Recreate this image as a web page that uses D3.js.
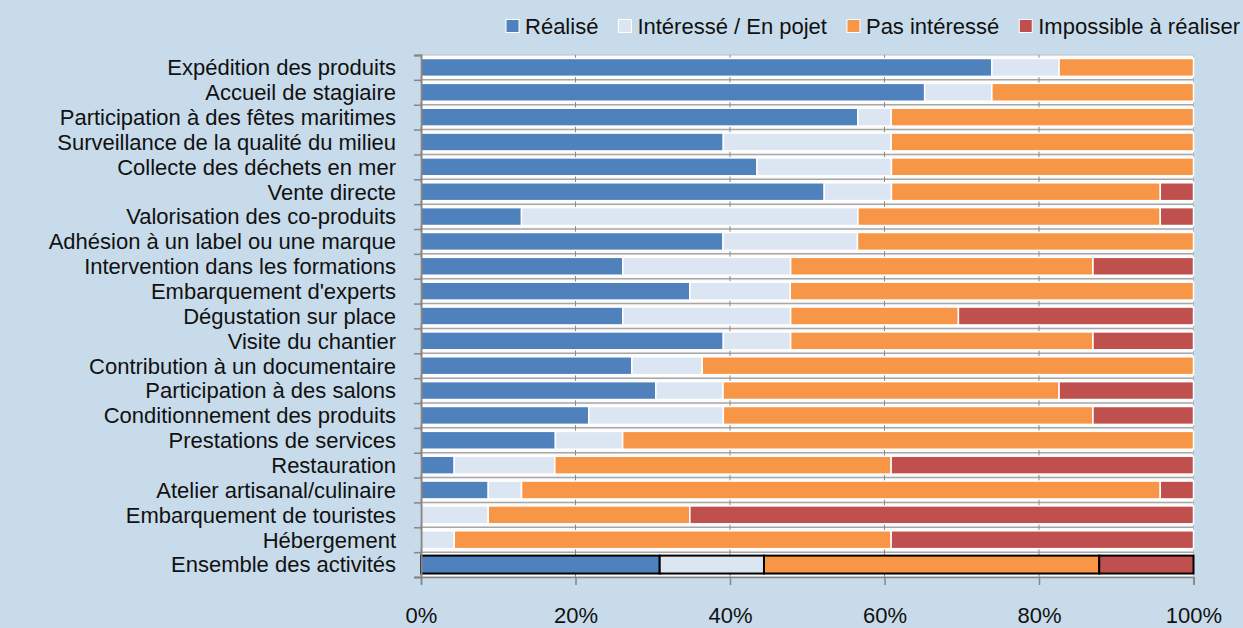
<!DOCTYPE html>
<html>
<head>
<meta charset="utf-8">
<script src="https://cdn.jsdelivr.net/npm/d3@7/dist/d3.min.js"></script>
<style>
  body { margin: 0; background: #c8dbea; }
  svg { display: block; }
  text { font-family: "Liberation Sans", Arial, sans-serif; fill: #111; }
</style>
</head>
<body>
<div id="chart"></div>
<script>
// share of answers per activity, in %
const categories = [
  "Expédition des produits", "Accueil de stagiaire", "Participation à des fêtes maritimes",
  "Surveillance de la qualité du milieu", "Collecte des déchets en mer", "Vente directe",
  "Valorisation des co-produits", "Adhésion à un label ou une marque",
  "Intervention dans les formations", "Embarquement d'experts", "Dégustation sur place",
  "Visite du chantier", "Contribution à un documentaire", "Participation à des salons",
  "Conditionnement des produits", "Prestations de services", "Restauration",
  "Atelier artisanal/culinaire", "Embarquement de touristes", "Hébergement",
  "Ensemble des activités"
]
const realise     = [73.9, 65.2, 56.5, 39.1, 43.5, 52.2, 13.0, 39.1, 26.1, 34.8, 26.1, 39.1, 27.3, 30.4, 21.7, 17.4, 4.3, 8.7, 0, 0, 30.9]
const interesse   = [8.7, 8.7, 4.3, 21.7, 17.4, 8.7, 43.5, 17.4, 21.7, 13.0, 21.7, 8.7, 9.1, 8.7, 17.4, 8.7, 13.0, 4.3, 8.7, 4.3, 13.5]
const pasInteresse= [17.4, 26.1, 39.1, 39.1, 39.1, 34.8, 39.1, 43.5, 39.1, 52.2, 21.7, 39.1, 63.6, 43.5, 47.8, 73.9, 43.5, 82.6, 26.1, 56.5, 43.4]
const impossible  = [0, 0, 0, 0, 0, 4.3, 4.3, 0, 13.0, 0, 30.4, 13.0, 0, 17.4, 13.0, 0, 39.1, 4.3, 65.2, 39.1, 12.2]

const seriesNames = ["Réalisé", "Intéressé / En pojet", "Pas intéressé", "Impossible à réaliser"]
const seriesColors = ["#4f81bd", "#dce6f2", "#f79646", "#c0504d"]
const xTicks = [0, 0.2, 0.4, 0.6, 0.8, 1]

const width = 1243
const height = 628
const margin = { top: 55, right: 49.5, bottom: 51, left: 421 }
const fontSize = 22

const keys = ["r", "i", "p", "x"]
const rows = categories.map((c, i) => ({
  cat: c, r: realise[i], i: interesse[i], p: pasInteresse[i], x: impossible[i]
}))
const stacked = d3.stack().keys(keys).offset(d3.stackOffsetExpand)(rows)

const x = d3.scaleLinear([0, 1], [margin.left, width - margin.right])
const y = d3.scaleBand(categories, [margin.top, height - margin.bottom])
  .paddingInner(0.28)
  .paddingOuter(0.14)
// boundaries between categories (ticks of the category axis)
const yb = d3.scaleLinear([0, categories.length], [margin.top, height - margin.bottom])
const color = d3.scaleOrdinal(keys, seriesColors)
const last = categories[categories.length - 1]

const svg = d3.select("#chart").append("svg")
  .attr("width", width)
  .attr("height", height)

// plot area
svg.append("rect")
  .attr("x", x(0)).attr("y", yb(0))
  .attr("width", x(1) - x(0)).attr("height", yb(categories.length) - yb(0))
  .attr("fill", "#fbfbfb")
  .attr("stroke", "#bfbfbf")

// gridlines
svg.append("g")
  .selectAll("line")
  .data(d3.range(1, categories.length))
  .join("line")
  .attr("x1", x(0)).attr("x2", x(1))
  .attr("y1", (d) => yb(d)).attr("y2", (d) => yb(d))
  .attr("stroke", "#a6a6a6")
  .attr("stroke-width", 1.5)

svg.append("g")
  .selectAll("line")
  .data(xTicks.slice(1, -1))
  .join("line")
  .attr("x1", (d) => x(d)).attr("x2", (d) => x(d))
  .attr("y1", yb(0)).attr("y2", yb(categories.length))
  .attr("stroke", "#8a8a8a")
  .attr("stroke-width", 1)

// bars
svg.append("g")
  .selectAll("g")
  .data(stacked)
  .join("g")
  .attr("fill", (s) => color(s.key))
  .selectAll("rect")
  .data((s) => s.filter((d) => d[1] - d[0] > 0))
  .join("rect")
  .attr("x", (d) => x(d[0]))
  .attr("y", (d) => y(d.data.cat))
  .attr("width", (d) => x(d[1]) - x(d[0]))
  .attr("height", y.bandwidth())
  .attr("stroke", (d) => (d.data.cat === last ? "#000" : "#fff"))
  .attr("stroke-width", (d) => (d.data.cat === last ? 2 : 1.5))

// left axis (ticks between categories)
const yAxis = svg.append("g")
  .attr("transform", `translate(${x(0)},0)`)
  .call(d3.axisLeft(yb).tickValues(d3.range(0, categories.length + 1)).tickSize(7).tickFormat(""))
yAxis.select(".domain").attr("stroke", "#868686").attr("stroke-width", 2)
yAxis.selectAll(".tick line").attr("stroke", "#868686").attr("stroke-width", 1.5)

// category labels
svg.append("g")
  .selectAll("text")
  .data(categories)
  .join("text")
  .attr("x", x(0) - 25)
  .attr("y", (d) => y(d) + y.bandwidth() / 2)
  .attr("dy", "0.36em")
  .attr("text-anchor", "end")
  .attr("font-size", fontSize)
  .text((d) => d)

// bottom axis
const xAxis = svg.append("g")
  .attr("transform", `translate(0,${yb(categories.length)})`)
  .call(d3.axisBottom(x).tickValues(xTicks).tickSize(8).tickFormat(d3.format(".0%")))
xAxis.select(".domain").attr("stroke", "#868686").attr("stroke-width", 1.5)
xAxis.selectAll(".tick line").attr("stroke", "#868686").attr("stroke-width", 1.5)
xAxis.selectAll(".tick text")
  .attr("y", 46)
  .attr("dy", 0)
  .attr("font-size", fontSize)
  .attr("font-family", "'Liberation Sans', Arial, sans-serif")
  .attr("fill", "#111")

// legend, right aligned at the top
const legend = svg.append("g")
const items = legend.selectAll("g")
  .data(seriesNames)
  .join("g")
items.append("rect")
  .attr("width", 13).attr("height", 13)
  .attr("y", -6.5)
  .attr("fill", (d, i) => seriesColors[i])
  .attr("stroke", "#fff")
  .attr("stroke-width", 1)
items.append("text")
  .attr("x", 19)
  .attr("dy", "0.36em")
  .attr("font-size", fontSize)
  .text((d) => d)
let cur = 0
items.each(function () {
  const w = d3.select(this).select("text").node().getComputedTextLength()
  d3.select(this).attr("transform", `translate(${cur},0)`)
  cur += 19 + w + 20
})
legend.attr("transform", `translate(${1240 - (cur - 20)},26)`)
</script>
</body>
</html>
